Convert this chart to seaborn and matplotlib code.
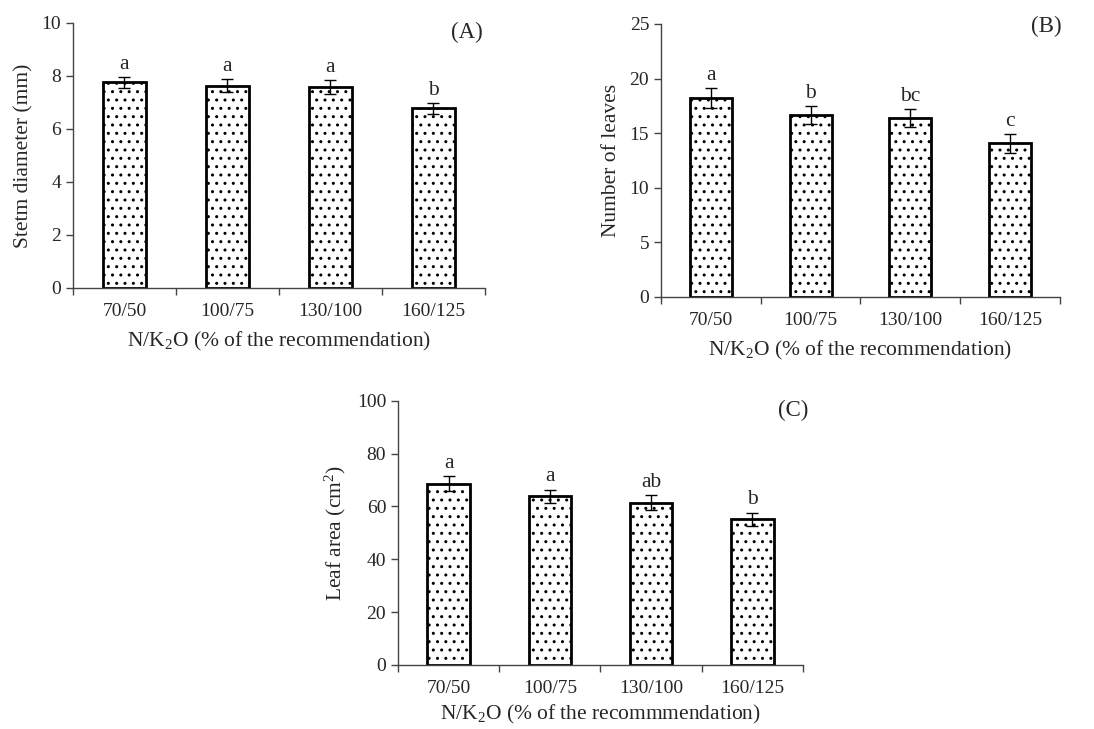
import numpy as np
import pandas as pd
import seaborn as sns
import matplotlib.pyplot as plt

# ---------------------------------------------------
# Data
# ---------------------------------------------------

doses = ["70/50", "100/75", "130/100", "160/125"]

stem_diameter = [7.76, 7.64, 7.58, 6.78]
stem_err = [0.21, 0.25, 0.25, 0.20]
stem_letters = ["a", "a", "a", "b"]

n_leaves = [18.2, 16.65, 16.4, 14.07]
leaves_err = [0.9, 0.8, 0.82, 0.85]
leaves_letters = ["a", "b", "bc", "c"]

leaf_area = [68.6, 63.9, 61.5, 55.2]
area_err = [2.9, 2.5, 2.9, 2.5]
area_letters = ["a", "a", "ab", "b"]

sns.set_style("white")
plt.rcParams["font.family"] = ["Liberation Serif", "DejaVu Serif"]
plt.rcParams["mathtext.fontset"] = "custom"
plt.rcParams["mathtext.rm"] = "Liberation Serif"
plt.rcParams["mathtext.it"] = "Liberation Serif:italic"
plt.rcParams["hatch.linewidth"] = 1.0
plt.rcParams["hatch.color"] = "#333333"

fig = plt.figure(figsize=(10.94, 7.29), dpi=100)


def panel(rect, values, errs, letters, ylim, yticks, ylabel, xlabel, tag, tag_xy,
          xpad=7):
    ax = fig.add_axes(rect)
    df = pd.DataFrame({"dose": doses, "value": values})
    sns.barplot(data=df, x="dose", y="value", ax=ax, width=0.42,
                color="white", edgecolor="black", linewidth=2.0,
                hatch="..", errorbar=None)
    ax.errorbar(np.arange(len(doses)), values, yerr=errs, fmt="none",
                ecolor="black", elinewidth=1.0, capsize=4, capthick=1.0)
    step = ylim[1] * 0.012
    for i, (v, e, lab) in enumerate(zip(values, errs, letters)):
        ax.text(i, v + e + step, lab, ha="center", va="bottom", fontsize=15.5)

    ax.set_xlim(-0.5, len(doses) - 0.5)
    ax.set_ylim(*ylim)
    ax.set_yticks(yticks)
    ax.set_xticks(np.arange(-0.5, len(doses), 1.0), minor=True)
    ax.tick_params(axis="x", which="major", length=0, labelsize=14, pad=11)
    ax.tick_params(axis="x", which="minor", length=5, width=1, color="#444444",
                   direction="out", bottom=True)
    ax.tick_params(axis="y", length=5, width=1, color="#444444",
                   direction="out", left=True, labelsize=14)
    for side in ["top", "right"]:
        ax.spines[side].set_visible(False)
    for side in ["left", "bottom"]:
        ax.spines[side].set_color("#444444")
        ax.spines[side].set_linewidth(1.0)
    ax.set_ylabel(ylabel, fontsize=15.5, labelpad=6)
    ax.set_xlabel(xlabel, fontsize=15.5, labelpad=xpad)
    ax.text(tag_xy[0], tag_xy[1], tag, transform=ax.transAxes,
            ha="center", va="center", fontsize=16.5)
    return ax


panel([0.0667, 0.605, 0.3766, 0.3635], stem_diameter, stem_err, stem_letters,
      (0, 10), [0, 2, 4, 6, 8, 10], "Stetm diameter (mm)",
      "N/K$_2$O (% of the recommendation)", "(A)", (0.956, 0.966))

panel([0.6042, 0.5926, 0.3647, 0.3745], n_leaves, leaves_err, leaves_letters,
      (0, 25), [0, 5, 10, 15, 20, 25], "Number of leaves",
      "N/K$_2$O (% of the recommendation)", "(B)", (0.967, 0.99))

panel([0.3638, 0.088, 0.3702, 0.3621], leaf_area, area_err, area_letters,
      (0, 100), [0, 20, 40, 60, 80, 100], "Leaf area (cm$^2$)",
      "N/K$_2$O (% of the recommmendation)", "(C)", (0.975, 0.962), xpad=4)

plt.savefig("out.png", dpi=100)
